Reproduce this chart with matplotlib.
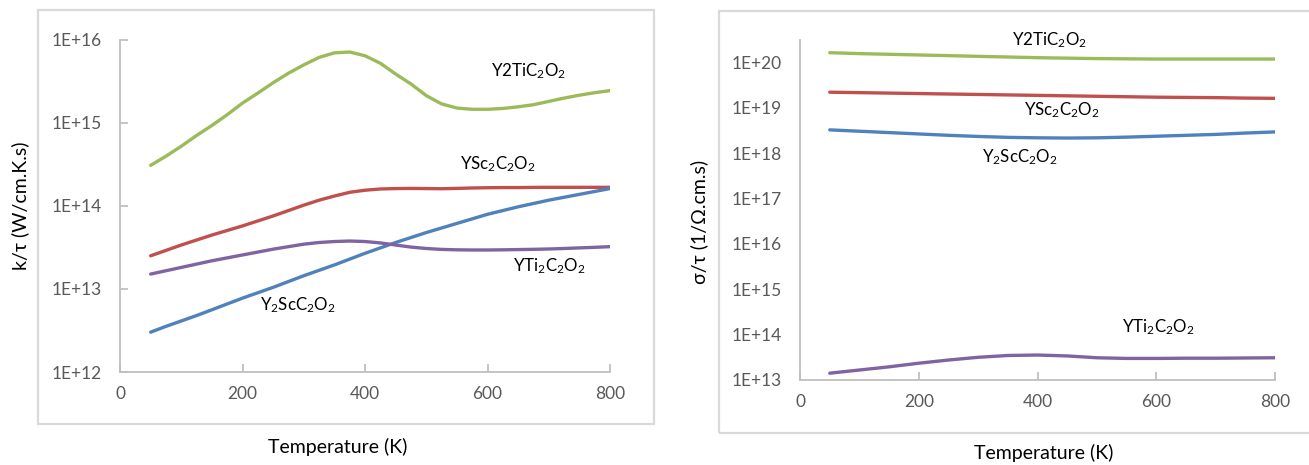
import matplotlib
matplotlib.use("Agg")
import matplotlib.pyplot as plt
from matplotlib.patches import Rectangle

plt.rcParams["font.family"] = ["Lato", "DejaVu Sans"]
plt.rcParams["mathtext.default"] = "regular"

# Temperature grids (K)
t_k = [50, 75, 100, 125, 150, 175, 200, 225, 250, 275, 300, 325, 350, 375, 400, 425,
       450, 475, 500, 525, 550, 575, 600, 625, 650, 675, 700, 725, 750, 775, 800]
t_s = [50, 100, 150, 200, 250, 300, 350, 400, 450, 500, 550, 600, 650, 700, 750, 800]

# Electronic thermal conductivity per relaxation time, log10 of k/tau (W/cm.K.s)
k_y2tic2o2 = [14.49, 14.60, 14.72, 14.85, 14.97, 15.10, 15.24, 15.36, 15.485, 15.60, 15.70,
              15.79, 15.845, 15.855, 15.81, 15.72, 15.59, 15.47, 15.33, 15.23, 15.18, 15.165,
              15.165, 15.175, 15.195, 15.22, 15.26, 15.30, 15.335, 15.365, 15.39]
k_ysc2c2o2 = [13.40, 13.465, 13.53, 13.59, 13.65, 13.705, 13.76, 13.82, 13.88, 13.945, 14.01,
              14.07, 14.12, 14.165, 14.19, 14.205, 14.21, 14.212, 14.21, 14.208, 14.212, 14.217,
              14.22, 14.222, 14.222, 14.224, 14.225, 14.225, 14.225, 14.225, 14.225]
k_y2scc2o2 = [12.48, 12.55, 12.615, 12.68, 12.75, 12.82, 12.89, 12.955, 13.02, 13.09, 13.16,
              13.225, 13.29, 13.36, 13.43, 13.495, 13.56, 13.62, 13.68, 13.735, 13.79, 13.845,
              13.90, 13.945, 13.99, 14.03, 14.07, 14.105, 14.14, 14.175, 14.21]
k_yti2c2o2 = [13.18, 13.22, 13.26, 13.30, 13.34, 13.375, 13.41, 13.445, 13.48, 13.51, 13.54,
              13.56, 13.572, 13.578, 13.572, 13.555, 13.53, 13.505, 13.488, 13.477, 13.472, 13.47,
              13.47, 13.472, 13.475, 13.478, 13.482, 13.488, 13.495, 13.502, 13.51]

# Electrical conductivity per relaxation time, log10 of sigma/tau (1/Ohm.cm.s)
s_y2tic2o2 = [20.21, 20.19, 20.175, 20.16, 20.145, 20.13, 20.115, 20.10, 20.09, 20.08, 20.075, 20.07, 20.07, 20.07, 20.07, 20.07]
s_ysc2c2o2 = [19.34, 19.33, 19.32, 19.31, 19.30, 19.29, 19.28, 19.27, 19.26, 19.25, 19.24, 19.23, 19.225, 19.22, 19.21, 19.205]
s_y2scc2o2 = [18.51, 18.48, 18.45, 18.42, 18.39, 18.365, 18.345, 18.335, 18.33, 18.335, 18.35, 18.37, 18.39, 18.41, 18.44, 18.465]
s_yti2c2o2 = [13.15, 13.22, 13.29, 13.37, 13.44, 13.50, 13.54, 13.55, 13.53, 13.49, 13.475, 13.475, 13.48, 13.48, 13.485, 13.49]

x_ticks = [0, 200, 400, 600, 800]
k_decades = [12, 13, 14, 15, 16]
s_decades = [13, 14, 15, 16, 17, 18, 19, 20]

GREEN = "#9BBB59"
RED = "#C0504D"
BLUE = "#4F81BD"
PURPLE = "#8064A2"
AXIS_GRAY = "#BFBFBF"
FRAME_GRAY = "#D9D9D9"
TICK_TEXT = "#595959"

fig = plt.figure(figsize=(13.09, 4.65), dpi=100)
fig.patch.set_facecolor("white")

# chart-area frames
fig.add_artist(Rectangle((0.029, 0.088), 0.4706, 0.890, transform=fig.transFigure,
                         fill=False, edgecolor=FRAME_GRAY, linewidth=1.6))
fig.add_artist(Rectangle((0.5493, 0.069), 0.47, 0.9075, transform=fig.transFigure,
                         fill=False, edgecolor=FRAME_GRAY, linewidth=1.6))

ax1 = fig.add_axes([0.0917, 0.2, 0.3743, 0.714])
ax2 = fig.add_axes([0.6112, 0.1828, 0.3629, 0.7312])


def pow10(vals):
    return [10.0 ** v for v in vals]


def style_axis(ax, decades, ylim, show_yticks):
    ax.set_yscale("log")
    ax.set_xlim(0, 800)
    ax.set_ylim(*ylim)
    ax.set_xticks(x_ticks)
    ax.set_xticklabels([str(t) for t in x_ticks])
    ax.set_yticks([10.0 ** d for d in decades])
    ax.set_yticklabels([f"1E+{d}" for d in decades])
    ax.yaxis.set_minor_locator(matplotlib.ticker.NullLocator())
    for side in ("top", "right"):
        ax.spines[side].set_visible(False)
    for side in ("left", "bottom"):
        ax.spines[side].set_color(AXIS_GRAY)
        ax.spines[side].set_linewidth(1.3)
    ax.tick_params(axis="x", direction="in", length=5.5, width=1.3, color=AXIS_GRAY,
                   labelsize=12.5, labelcolor=TICK_TEXT, pad=10)
    ax.tick_params(axis="y", direction="in", length=5.5 if show_yticks else 0,
                   width=1.3, color=AXIS_GRAY, labelsize=12.5, labelcolor=TICK_TEXT, pad=13)
    ax.set_facecolor("none")


lw = 2.4
line_kw = dict(lw=lw, solid_capstyle="round", solid_joinstyle="round")

# k/tau panel
ax1.plot(t_k, pow10(k_y2tic2o2), color=GREEN, **line_kw)
ax1.plot(t_k, pow10(k_ysc2c2o2), color=RED, **line_kw)
ax1.plot(t_k, pow10(k_y2scc2o2), color=BLUE, **line_kw)
ax1.plot(t_k, pow10(k_yti2c2o2), color=PURPLE, **line_kw)
style_axis(ax1, k_decades, (1e12, 1e16), True)

lab = dict(fontsize=12.2, ha="left", va="center", color="black")
ax1.text(606, 10 ** 15.63, "Y2TiC$_2$O$_2$", **lab)
ax1.text(555, 10 ** 14.51, "YSc$_2$C$_2$O$_2$", **lab)
ax1.text(642, 10 ** 13.27, "YTi$_2$C$_2$O$_2$", **lab)
ax1.text(228, 10 ** 12.81, "Y$_2$ScC$_2$O$_2$", **lab)

ax1.set_ylabel("k/τ (W/cm.K.s)", fontsize=14)
ax1.yaxis.set_label_coords(-0.186, 0.50)
ax1.set_xlabel("Temperature (K)", fontsize=14)
ax1.xaxis.set_label_coords(0.445, -0.20)

# sigma/tau panel
ax2.plot(t_s, pow10(s_y2tic2o2), color=GREEN, **line_kw)
ax2.plot(t_s, pow10(s_ysc2c2o2), color=RED, **line_kw)
ax2.plot(t_s, pow10(s_y2scc2o2), color=BLUE, **line_kw)
ax2.plot(t_s, pow10(s_yti2c2o2), color=PURPLE, **line_kw)
style_axis(ax2, s_decades, (1e13, 10 ** 20.49), False)

ax2.text(357, 10 ** 20.48, "Y2TiC$_2$O$_2$", **lab)
ax2.text(377, 10 ** 18.94, "YSc$_2$C$_2$O$_2$", **lab)
ax2.text(306, 10 ** 17.91, "Y$_2$ScC$_2$O$_2$", **lab)
ax2.text(543, 10 ** 14.16, "YTi$_2$C$_2$O$_2$", **lab)

ax2.set_ylabel("σ/τ (1/Ω.cm.s)", fontsize=14)
ax2.yaxis.set_label_coords(-0.193, 0.465)
ax2.set_xlabel("Temperature (K)", fontsize=14)
ax2.xaxis.set_label_coords(0.512, -0.188)

fig.savefig("out.png", dpi=100, facecolor="white")
